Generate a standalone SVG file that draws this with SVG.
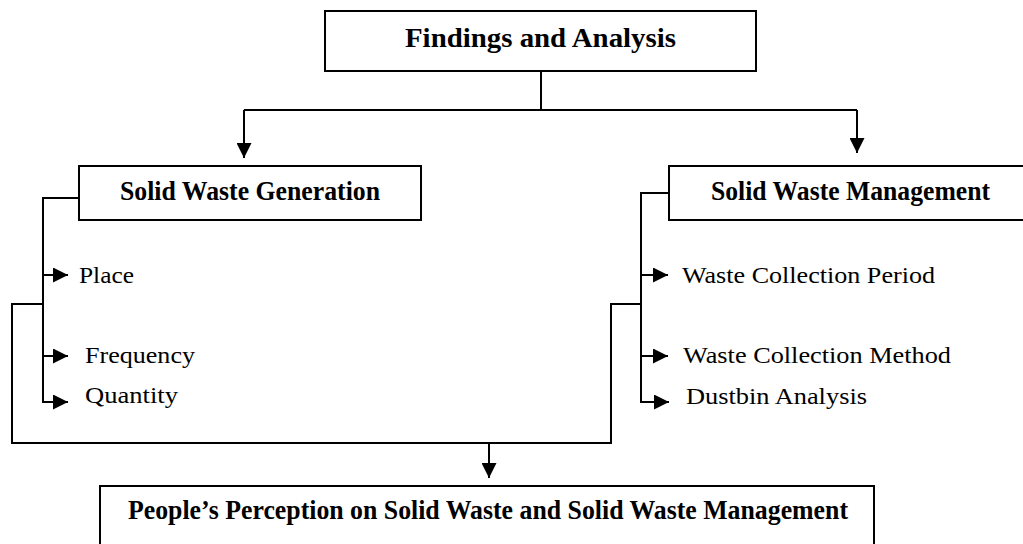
<svg xmlns="http://www.w3.org/2000/svg" width="1023" height="544" viewBox="0 0 1023 544">
<style>
.box{fill:#fff;stroke:#000;stroke-width:2}
.ln{fill:none;stroke:#000;stroke-width:2}
.b{font-family:"Liberation Serif","Times New Roman",serif;font-weight:bold;font-size:27px;fill:#000}
.r{font-family:"Liberation Serif","Times New Roman",serif;font-size:24px;fill:#000}
</style>
<defs>
<marker id="ah" viewBox="0 0 10 10" refX="10" refY="5" markerWidth="8" markerHeight="7.5" markerUnits="strokeWidth" orient="auto">
<path d="M0,0 L10,5 L0,10 z" fill="#000"/>
</marker>
</defs>
<rect width="1023" height="544" fill="#fff"/>
<g id="connectors">
<path class="ln" d="M541,64 V110"/>
<path class="ln" d="M244,110 H857"/>
<path class="ln" d="M244,110 V158" marker-end="url(#ah)"/>
<path class="ln" d="M857,110 V153" marker-end="url(#ah)"/>
<path class="ln" d="M79,198 H43 V402 H68" marker-end="url(#ah)"/>
<path class="ln" d="M43,275 H68" marker-end="url(#ah)"/>
<path class="ln" d="M43,356 H68" marker-end="url(#ah)"/>
<path class="ln" d="M669,193 H641 V402 H669" marker-end="url(#ah)"/>
<path class="ln" d="M641,275 H668" marker-end="url(#ah)"/>
<path class="ln" d="M641,356 H668" marker-end="url(#ah)"/>
<path class="ln" d="M43,304 H12 V443 H611 V304 H641"/>
<path class="ln" d="M489,443 V478" marker-end="url(#ah)"/>
</g>
<g id="findings">
<rect class="box" x="325" y="11" width="431" height="60"/>
<text class="b" x="405" y="47" textLength="271" lengthAdjust="spacingAndGlyphs">Findings and Analysis</text>
</g>
<g id="generation">
<rect class="box" x="79" y="166" width="342" height="54"/>
<text class="b" x="120" y="200" textLength="260" lengthAdjust="spacingAndGlyphs">Solid Waste Generation</text>
</g>
<g id="management">
<rect class="box" x="669" y="166" width="400" height="54"/>
<text class="b" x="711" y="200" textLength="279" lengthAdjust="spacingAndGlyphs">Solid Waste Management</text>
</g>
<g id="place"><text class="r" x="79" y="283" textLength="55" lengthAdjust="spacingAndGlyphs">Place</text></g>
<g id="frequency"><text class="r" x="85" y="363" textLength="110" lengthAdjust="spacingAndGlyphs">Frequency</text></g>
<g id="quantity"><text class="r" x="85" y="403" textLength="93" lengthAdjust="spacingAndGlyphs">Quantity</text></g>
<g id="period"><text class="r" x="682" y="283" textLength="253" lengthAdjust="spacingAndGlyphs">Waste Collection Period</text></g>
<g id="method"><text class="r" x="683" y="363" textLength="268" lengthAdjust="spacingAndGlyphs">Waste Collection Method</text></g>
<g id="dustbin"><text class="r" x="686" y="404" textLength="181" lengthAdjust="spacingAndGlyphs">Dustbin Analysis</text></g>
<g id="perception">
<rect class="box" x="100" y="486" width="774" height="80"/>
<text class="b" x="128" y="519" textLength="720" lengthAdjust="spacingAndGlyphs">People’s Perception on Solid Waste and Solid Waste Management</text>
</g>
</svg>
